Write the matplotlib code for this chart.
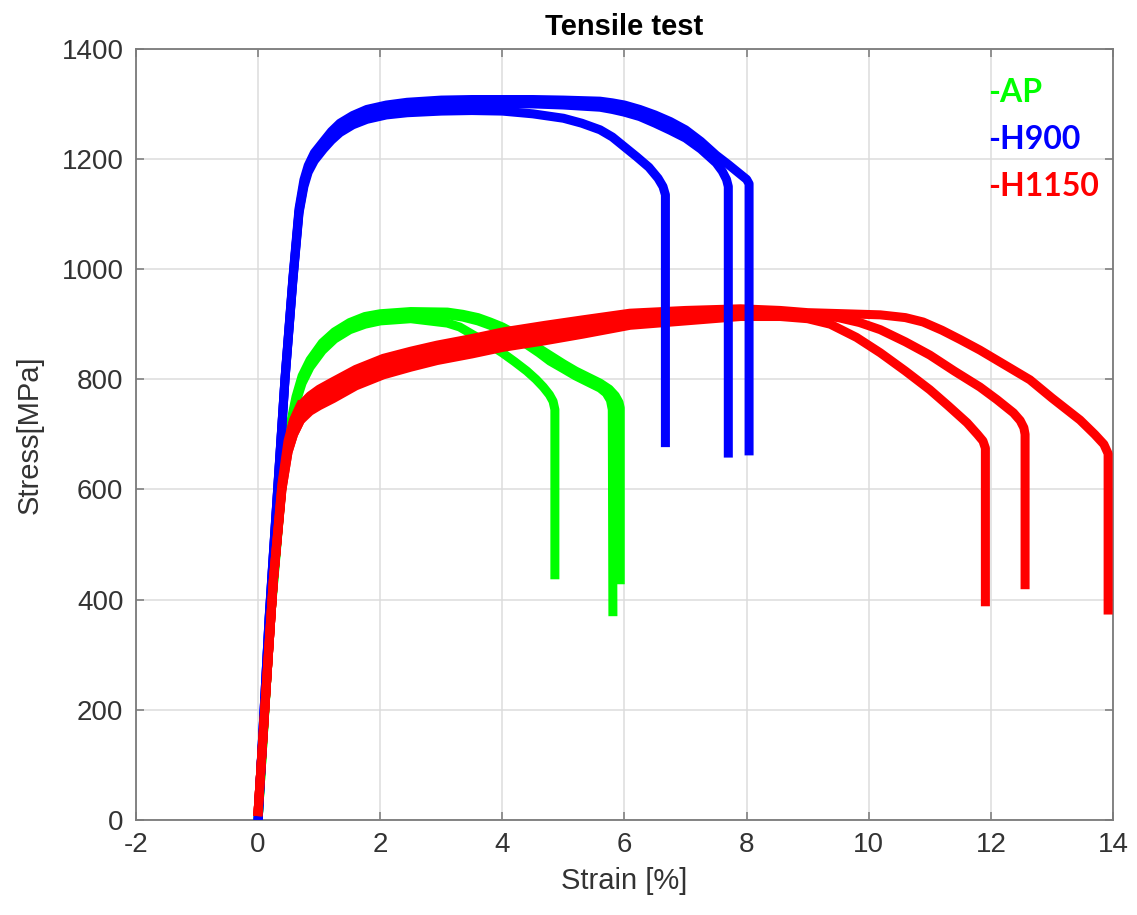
import matplotlib
matplotlib.use("Agg")
import matplotlib.pyplot as plt
import numpy as np

plt.rcParams['font.family'] = ['Liberation Sans', 'DejaVu Sans']
plt.rcParams['axes.unicode_minus'] = False

# strain [%] / stress [MPa] for each specimen
# AP (as printed)
ap1_x = [0, 0.2, 0.4, 0.55, 0.62, 0.72, 0.85, 1.05, 1.25, 1.5, 1.75, 2.0, 2.5, 3.1, 3.3, 3.5, 3.75, 4.0, 4.2, 4.4, 4.55, 4.67, 4.77, 4.83, 4.86, 4.86]
ap1_y = [0, 360, 620, 720, 758, 793, 822, 852, 873, 890, 900, 906, 910, 902, 895, 882, 866, 848, 832, 815, 800, 786, 772, 760, 745, 445]
ap2_x = [0, 0.2, 0.4, 0.55, 0.62, 0.72, 0.85, 1.05, 1.25, 1.5, 1.75, 2.0, 2.5, 3.1, 3.35, 3.6, 3.8, 4.0, 4.2, 4.4, 4.6, 4.78, 5.0, 5.2, 5.4, 5.6, 5.7, 5.77, 5.8, 5.81]
ap2_y = [0, 362, 625, 725, 762, 800, 829, 860, 880, 897, 908, 914, 918, 917, 913, 906, 898, 888, 876, 863, 848, 833, 819, 806, 795, 784, 775, 762, 745, 378]
ap3_x = [0, 0.2, 0.4, 0.55, 0.62, 0.72, 0.85, 1.05, 1.25, 1.5, 1.75, 2.0, 2.5, 3.1, 3.35, 3.6, 3.8, 4.0, 4.2, 4.4, 4.6, 4.8, 5.0, 5.2, 5.4, 5.6, 5.75, 5.85, 5.91, 5.93, 5.93]
ap3_y = [0, 364, 630, 730, 768, 806, 835, 866, 886, 903, 914, 919, 923, 922, 918, 912, 904, 895, 883, 870, 856, 842, 828, 815, 804, 793, 782, 770, 758, 748, 436]

# H900
h900_1_x = [0, 0.18, 0.44, 0.57, 0.67, 0.75, 0.82, 0.92, 1.07, 1.2, 1.34, 1.55, 1.78, 2.1, 2.44, 3.0, 3.5, 4.0, 4.5, 5.0, 5.3, 5.6, 5.8, 6.0, 6.2, 6.4, 6.55, 6.63, 6.67, 6.67]
h900_1_y = [0, 363, 799, 980, 1102, 1150, 1176, 1197, 1218, 1234, 1248, 1262, 1272, 1280, 1284, 1287, 1288, 1287, 1282, 1274, 1265, 1253, 1240, 1222, 1204, 1185, 1165, 1150, 1135, 685]
h900_2_x = [0, 0.18, 0.44, 0.57, 0.67, 0.75, 0.82, 0.92, 1.07, 1.2, 1.34, 1.55, 1.78, 2.1, 2.44, 3.0, 3.5, 4.5, 5.0, 5.6, 5.8, 6.0, 6.25, 6.5, 6.75, 7.0, 7.25, 7.5, 7.6, 7.67, 7.7, 7.7]
h900_2_y = [0, 365, 800, 982, 1105, 1155, 1181, 1204, 1225, 1242, 1257, 1271, 1281, 1289, 1294, 1298, 1300, 1300, 1298, 1294, 1290, 1285, 1277, 1265, 1252, 1238, 1218, 1193, 1178, 1163, 1150, 666]
h900_3_x = [0, 0.18, 0.44, 0.57, 0.67, 0.75, 0.82, 0.92, 1.07, 1.2, 1.34, 1.55, 1.78, 2.1, 2.44, 3.0, 3.5, 4.5, 5.0, 5.6, 5.8, 6.0, 6.25, 6.5, 6.75, 7.0, 7.25, 7.5, 7.7, 7.9, 8.0, 8.04, 8.04]
h900_3_y = [0, 367, 802, 985, 1110, 1162, 1188, 1211, 1232, 1250, 1265, 1279, 1290, 1298, 1303, 1307, 1308, 1308, 1307, 1305, 1302, 1298, 1290, 1280, 1268, 1253, 1232, 1207, 1190, 1172, 1163, 1155, 670]

# H1150
h1150_1_x = [0, 0.12, 0.25, 0.39, 0.49, 0.58, 0.69, 0.85, 1.0, 1.23, 1.6, 2.05, 2.5, 2.93, 3.5, 4.01, 4.7, 5.32, 6.09, 7.0, 7.9, 8.55, 9.0, 9.37, 9.8, 10.19, 10.6, 11.0, 11.3, 11.61, 11.78, 11.87, 11.91, 11.91]
h1150_1_y = [15, 220, 436, 600, 668, 700, 725, 742, 752, 765, 788, 808, 822, 834, 846, 858, 870, 882, 898, 906, 914, 914, 910, 900, 876, 848, 815, 781, 752, 721, 700, 688, 675, 396]
h1150_2_x = [0, 0.12, 0.25, 0.39, 0.49, 0.58, 0.69, 0.85, 1.0, 1.23, 1.6, 2.05, 2.5, 2.93, 3.5, 4.01, 4.7, 5.32, 6.09, 7.0, 7.9, 8.55, 9.0, 9.5, 9.85, 10.19, 10.6, 11.0, 11.4, 11.82, 12.1, 12.37, 12.48, 12.54, 12.56, 12.56]
h1150_2_y = [15, 220, 436, 605, 678, 712, 739, 756, 768, 781, 803, 823, 836, 848, 860, 872, 884, 895, 911, 917, 921, 920, 918, 912, 903, 890, 868, 844, 815, 786, 763, 739, 725, 712, 700, 427]
h1150_3_x = [0, 0.12, 0.25, 0.39, 0.49, 0.58, 0.69, 0.85, 1.0, 1.23, 1.6, 2.05, 2.5, 2.93, 3.5, 4.01, 4.7, 5.32, 6.09, 7.0, 7.9, 8.55, 9.0, 9.6, 10.19, 10.6, 10.89, 11.2, 11.5, 11.82, 12.2, 12.64, 13.0, 13.46, 13.7, 13.85, 13.92, 13.92]
h1150_3_y = [15, 220, 436, 610, 688, 725, 752, 770, 782, 796, 818, 838, 851, 862, 874, 886, 898, 908, 920, 925, 928, 925, 921, 919, 917, 912, 904, 889, 872, 853, 828, 799, 766, 726, 700, 682, 665, 381]

green = (0, 1, 0)
blue = (0, 0, 1)
red = (1, 0, 0)
lw = 6.5

ap = [(ap1_x, ap1_y), (ap2_x, ap2_y), (ap3_x, ap3_y)]
h900 = [(h900_1_x, h900_1_y), (h900_2_x, h900_2_y), (h900_3_x, h900_3_y)]
h1150 = [(h1150_1_x, h1150_1_y), (h1150_2_x, h1150_2_y), (h1150_3_x, h1150_3_y)]

fig = plt.figure(figsize=(11.37, 9.15), dpi=100)
ax = fig.add_axes([0.1196, 0.104, 0.8593, 0.8426])

for xs, ys in ap:
    ax.plot(xs, ys, color=green, lw=lw, solid_joinstyle='round', zorder=2)
for xs, ys in h1150:
    ax.plot(xs, ys, color=red, lw=lw, solid_joinstyle='round', zorder=3)
for xs, ys in h900:
    ax.plot(xs, ys, color=blue, lw=lw, solid_joinstyle='round', zorder=4)
# elastic part of H1150 sits on top of the others
for xs, ys in h1150:
    xs = np.array(xs)
    ys = np.array(ys)
    m = xs <= 0.7
    ax.plot(xs[m], ys[m], color=red, lw=lw, solid_joinstyle='round', zorder=5)

ax.set_xlim(-2, 14)
ax.set_ylim(0, 1400)
ax.set_xticks(np.arange(-2, 15, 2))
ax.set_yticks(np.arange(0, 1401, 200))
ax.grid(True, color='#dcdcdc', lw=1.1)
ax.set_axisbelow(True)

for s in ax.spines.values():
    s.set_color('#7a7a7a')
    s.set_linewidth(1.3)
ax.tick_params(direction='in', length=6, width=1.1, color='#7a7a7a',
               top=True, right=True, labelsize=20, labelcolor='#333333', pad=9)

ax.set_xlabel('Strain [%]', fontsize=21, color='#333333', labelpad=6)
ax.set_ylabel('Stress[MPa]', fontsize=21, color='#333333', labelpad=13)
ax.set_title('Tensile test', fontsize=21, fontweight='bold', pad=10)

ax.text(11.95, 1320, '-AP', color=green, fontsize=23, fontweight='bold',
        family=['Lato', 'DejaVu Sans'], va='center', ha='left')
ax.text(11.95, 1235, '-H900', color=blue, fontsize=23, fontweight='bold',
        family=['Lato', 'DejaVu Sans'], va='center', ha='left')
ax.text(11.95, 1150, '-H1150', color=red, fontsize=23, fontweight='bold',
        family=['Lato', 'DejaVu Sans'], va='center', ha='left')

fig.savefig('out.png', dpi=100)
